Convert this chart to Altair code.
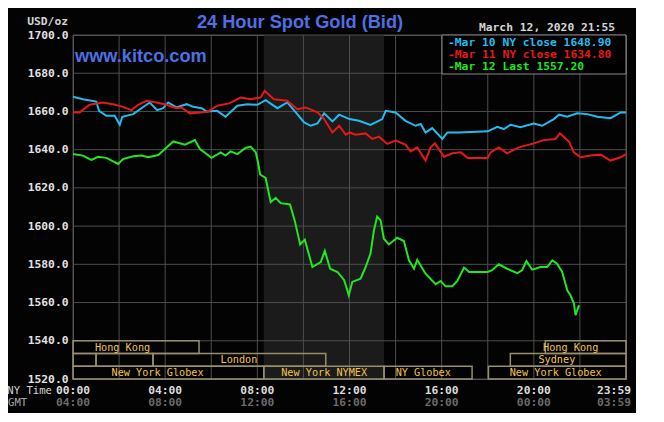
import altair as alt
import pandas as pd

# ---------------- data (NY time in hours, price USD/oz) ----------------
blue_h = [0.00, 0.43, 1.01, 1.13, 1.45, 1.81, 2.03, 2.14, 2.61, 2.97, 3.33, 3.65, 3.91, 4.13, 4.49,
          4.93, 5.22, 5.58, 5.80, 6.26, 6.62, 7.13, 7.57, 8.00, 8.36, 8.87, 9.30, 9.67, 10.03, 10.32,
          10.61, 10.90, 11.26, 11.55, 12.00, 12.41, 12.91, 13.42, 13.57, 14.00, 14.43, 14.87, 15.09,
          15.30, 15.59, 16.03, 16.25, 16.75, 18.00, 18.41, 18.70, 18.99, 19.42, 20.00, 20.36, 20.87,
          21.09, 21.45, 21.88, 22.32, 22.75, 23.33, 23.77, 24.00]
blue_v = [1667.7, 1666.4, 1665.2, 1660.3, 1657.7, 1657.7, 1653.0, 1657.2, 1658.6, 1661.7, 1664.7,
          1660.7, 1661.7, 1664.7, 1662.1, 1663.8, 1662.4, 1661.7, 1660.0, 1660.3, 1657.2, 1663.0,
          1663.8, 1663.5, 1665.9, 1661.7, 1664.7, 1659.5, 1654.3, 1652.5, 1653.7, 1659.0, 1654.8,
          1658.3, 1656.0, 1655.1, 1653.0, 1656.0, 1660.3, 1659.5, 1655.1, 1652.5, 1653.4, 1649.0,
          1651.3, 1645.6, 1649.0, 1649.0, 1649.6, 1652.0, 1650.8, 1653.0, 1651.7, 1653.7, 1652.5,
          1656.0, 1658.3, 1657.2, 1659.0, 1658.6, 1657.2, 1656.5, 1659.5, 1659.5]

red_h = [0.00, 0.29, 0.72, 1.30, 1.74, 2.17, 2.54, 2.83, 3.19, 3.62, 4.06, 4.49, 4.71, 5.07, 5.51,
         5.87, 6.26, 6.77, 7.28, 7.71, 8.14, 8.32, 8.72, 9.30, 9.74, 10.10, 10.61, 10.90, 11.26,
         11.55, 11.84, 12.00, 12.26, 12.70, 12.99, 13.28, 13.64, 14.00, 14.43, 14.65, 14.94, 15.30,
         15.52, 15.71, 16.10, 16.46, 16.83, 17.12, 18.00, 18.12, 18.48, 18.84, 19.35, 20.00, 20.43,
         20.94, 21.13, 21.52, 21.74, 22.03, 22.46, 22.90, 23.33, 23.77, 24.00]
red_v = [1659.5, 1659.5, 1663.5, 1664.7, 1663.8, 1662.4, 1660.7, 1663.5, 1665.6, 1664.7, 1663.5,
         1661.7, 1662.1, 1659.0, 1659.5, 1660.0, 1663.0, 1664.2, 1667.3, 1666.4, 1667.3, 1670.8,
         1666.4, 1665.6, 1661.2, 1662.1, 1659.5, 1656.0, 1649.0, 1652.5, 1647.8, 1649.0, 1647.8,
         1648.5, 1645.6, 1646.8, 1643.0, 1644.7, 1642.6, 1639.1, 1641.2, 1634.3, 1641.2, 1643.3,
         1636.3, 1638.1, 1638.6, 1635.7, 1635.7, 1638.6, 1641.2, 1638.1, 1641.2, 1643.3, 1645.0,
         1645.6, 1648.5, 1644.3, 1638.6, 1636.0, 1636.9, 1637.4, 1634.3, 1636.0, 1637.7]

green_h = [0.00, 0.43, 0.80, 1.09, 1.45, 1.74, 1.96, 2.17, 2.61, 2.97, 3.26, 3.70, 3.99, 4.35, 4.86,
           5.29, 5.51, 5.80, 6.01, 6.41, 6.62, 6.84, 7.13, 7.49, 7.71, 7.93, 8.03, 8.12, 8.36, 8.58,
           8.80, 9.01, 9.42, 9.62, 9.86, 10.06, 10.39, 10.75, 10.93, 11.16, 11.48, 11.77, 11.97,
           12.12, 12.48, 12.70, 12.91, 13.06, 13.20, 13.35, 13.49, 13.71, 14.07, 14.36, 14.58, 14.80,
           14.94, 15.30, 15.74, 15.96, 16.17, 16.46, 16.68, 16.97, 17.19, 18.00, 18.19, 18.48, 18.84,
           19.28, 19.49, 19.68, 19.93, 20.29, 20.58, 20.80, 21.01, 21.23, 21.45, 21.59, 21.74, 21.81,
           21.96]
green_v = [1637.7, 1636.9, 1634.6, 1636.3, 1635.7, 1633.9, 1632.5, 1635.1, 1636.5, 1636.9, 1636.0,
           1637.2, 1640.3, 1644.3, 1642.6, 1645.0, 1640.3, 1637.7, 1635.7, 1638.6, 1636.9, 1639.1,
           1637.7, 1640.9, 1641.6, 1638.6, 1633.4, 1627.0, 1625.2, 1612.5, 1614.8, 1612.0, 1611.3,
           1603.0, 1590.4, 1592.9, 1578.6, 1581.2, 1587.0, 1577.7, 1576.0, 1571.7, 1563.8, 1570.8,
           1572.5, 1578.6, 1585.6, 1597.7, 1605.0, 1603.0, 1593.4, 1590.4, 1593.9, 1592.2, 1582.1,
           1577.7, 1582.4, 1575.1, 1569.6, 1571.3, 1568.5, 1568.5, 1571.3, 1578.3, 1576.0, 1576.0,
           1576.9, 1580.0, 1577.7, 1575.4, 1576.9, 1581.7, 1577.2, 1578.6, 1578.6, 1582.1, 1580.3,
           1576.0, 1566.4, 1563.8, 1559.5, 1553.4, 1558.6]

series_names = ["Mar 10", "Mar 11", "Mar 12"]
series_colors = ["#22bdf0", "#e81818", "#22e622"]
legend_labels = ["-Mar 10 NY close 1648.90", "-Mar 11 NY close 1634.80", "-Mar 12 Last 1557.20"]

# trading sessions: name, start hour, end hour, band row, label hour
sess_name = ["Hong Kong", "", "", "London", "New York Globex", "New York NYMEX", "NY Globex",
             "New York Globex", "Sydney", "Hong Kong"]
sess_start = [0.0, 0.0, 1.0, 3.47, 0.0, 8.28, 13.5, 18.03, 18.98, 20.5]
sess_end = [5.47, 1.0, 3.47, 10.97, 8.28, 13.5, 17.32, 24.0, 24.0, 24.0]
sess_row = [0, 1, 1, 1, 2, 2, 2, 2, 1, 0]
sess_label_h = [2.15, 0.5, 2.2, 7.2, 3.67, 10.9, 15.2, 20.95, 21.0, 21.6]

nymex_start, nymex_end = 8.28, 13.5

tick_h = [0, 4, 8, 12, 16, 20]
ny_labels = ["00:00", "04:00", "08:00", "12:00", "16:00", "20:00"]
gmt_labels = ["04:00", "08:00", "12:00", "16:00", "20:00", "00:00"]
last_h = [24]
last_ny = ["23:59"]
last_gmt = ["03:59"]

grid_h = list(range(0, 25, 2))
grid_v = list(range(1520, 1701, 20))

# ---------------- build tables ----------------
rows = []
for name, hs, vs in zip(series_names, [blue_h, red_h, green_h], [blue_v, red_v, green_v]):
    for h, v in zip(hs, vs):
        rows.append({"series": name, "h": h, "v": v})
lines_df = pd.DataFrame(rows)

sess_df = pd.DataFrame({"name": sess_name, "s": sess_start, "e": sess_end,
                        "row": sess_row, "lh": sess_label_h})

W, H = 553, 344
MONO = "DejaVu Sans Mono"
xs = alt.Scale(domain=[0, 24], nice=False, zero=False)
ys = alt.Scale(domain=[1520, 1700], nice=False, zero=False)
x_axis = alt.Axis(grid=False, labels=False, ticks=False, domain=False, title=None)
y_axis = alt.Axis(values=grid_v, format=".1f", grid=False, ticks=False, domain=False,
                  labelColor="#e2e2e2", labelFont=MONO, labelFontWeight="bold",
                  labelFontSize=11.3, labelPadding=5, labelOverlap=False,
                  labelBound=False, labelFlush=False, title=None)


def X(field):
    return alt.X(field, scale=xs, axis=x_axis)


def Y(field):
    return alt.Y(field, scale=ys, axis=y_axis)


shade = alt.Chart(pd.DataFrame({"s": [nymex_start], "e": [nymex_end]})).mark_rect(
    color="#1b1b1b").encode(x=X("s:Q"), x2="e:Q", y=alt.value(0), y2=alt.value(H))

vgrid = alt.Chart(pd.DataFrame({"h": grid_h})).mark_rule(color="#4e4e4e", strokeWidth=1).encode(
    x=X("h:Q"), y=alt.value(0), y2=alt.value(H))

hgrid = alt.Chart(pd.DataFrame({"v": grid_v})).mark_rule(color="#4e4e4e", strokeWidth=1).encode(
    y=Y("v:Q"), x=alt.value(0), x2=alt.value(W))

band_base = alt.Chart(sess_df).transform_calculate(
    top="1540 - datum.row * 20 / 3",
    bot="1540 - (datum.row + 1) * 20 / 3",
    mid="1540 - (datum.row + 0.5) * 20 / 3")

boxes = band_base.mark_rect(fill="transparent", stroke="#978f6c", strokeWidth=1.5).encode(
    x=X("s:Q"), x2="e:Q", y=Y("top:Q"), y2="bot:Q")

box_text = band_base.mark_text(font=MONO, fontSize=10.2, color="#f2c24e", baseline="middle",
                               dy=0.5).encode(x=X("lh:Q"), y=Y("mid:Q"), text="name:N")

lines = alt.Chart(lines_df).mark_line(strokeWidth=2).encode(
    x=X("h:Q"), y=Y("v:Q"),
    color=alt.Color("series:N", scale=alt.Scale(domain=series_names, range=series_colors), legend=None),
    detail="series:N", order="h:Q")

one = pd.DataFrame({"a": [0]})
legend_box = alt.Chart(one).mark_rect(fill="#000000", stroke="#8a8a8a", strokeWidth=1).encode(
    x=alt.value(369), x2=alt.value(W), y=alt.value(0), y2=alt.value(39))

legend_texts = []
for i, (lab, col) in enumerate(zip(legend_labels, series_colors)):
    legend_texts.append(alt.Chart(one).mark_text(
        font=MONO, fontSize=11.3, fontWeight="bold", color=col, align="left", baseline="middle",
        text=lab).encode(x=alt.value(375), y=alt.value(7.5 + 12 * i)))


def label(txt, x, y, color, size=11.3, font=MONO, weight="bold", align="left"):
    return alt.Chart(one).mark_text(text=txt, font=font, fontSize=size, fontWeight=weight,
                                    color=color, align=align, baseline="middle").encode(
        x=alt.value(x), y=alt.value(y))


title = label("24 Hour Spot Gold (Bid)", 227, -12.5, "#4f6fe2", size=18.2,
              font="Liberation Sans", align="center")
kitco = label("www.kitco.com", 2, 22, "#4f6fe2", size=18.2, font="Liberation Sans")
usd = label("USD/oz", -5, -13.5, "#d4d4d4", align="right")
date = label("March 12, 2020 21:55", 542, -7, "#d4d4d4", align="right")
nyt = label("NY Time", -21, 356, "#d4d4d4", size=10.6, weight="normal", align="right")
gmt = label("GMT", -65, 367.5, "#a8a8a8", size=10.6, weight="normal")

ticks_df = pd.DataFrame({"h": tick_h, "ny": ny_labels, "gmt": gmt_labels})
last_df = pd.DataFrame({"h": last_h, "ny": last_ny, "gmt": last_gmt})
ny_ticks = alt.Chart(ticks_df).mark_text(font=MONO, fontSize=11.3, fontWeight="bold", color="#dcdcdc",
                                         baseline="middle").encode(
    x=X("h:Q"), y=alt.value(356), text="ny:N")
gmt_ticks = alt.Chart(ticks_df).mark_text(font=MONO, fontSize=11.3, fontWeight="bold", color="#6a6a6a",
                                          baseline="middle").encode(
    x=X("h:Q"), y=alt.value(367.5), text="gmt:N")
ny_last = alt.Chart(last_df).mark_text(font=MONO, fontSize=11.3, fontWeight="bold", color="#dcdcdc",
                                       baseline="middle", align="right", dx=5).encode(
    x=X("h:Q"), y=alt.value(356), text="ny:N")
gmt_last = alt.Chart(last_df).mark_text(font=MONO, fontSize=11.3, fontWeight="bold", color="#6a6a6a",
                                        baseline="middle", align="right", dx=5).encode(
    x=X("h:Q"), y=alt.value(367.5), text="gmt:N")

chart = alt.layer(
    shade, vgrid, hgrid, boxes, lines, box_text, legend_box, *legend_texts,
    title, kitco, usd, date, nyt, gmt, ny_ticks, gmt_ticks, ny_last, gmt_last
).properties(
    width=W, height=H,
    autosize=alt.AutoSizeParams(type="none"),
    padding={"left": 65, "top": 27, "right": 10, "bottom": 34},
    background="#030303",
).configure_view(stroke="#5a5a5a", strokeWidth=1)

chart.save("out.html", embed_options={"renderer": "svg", "actions": False})
